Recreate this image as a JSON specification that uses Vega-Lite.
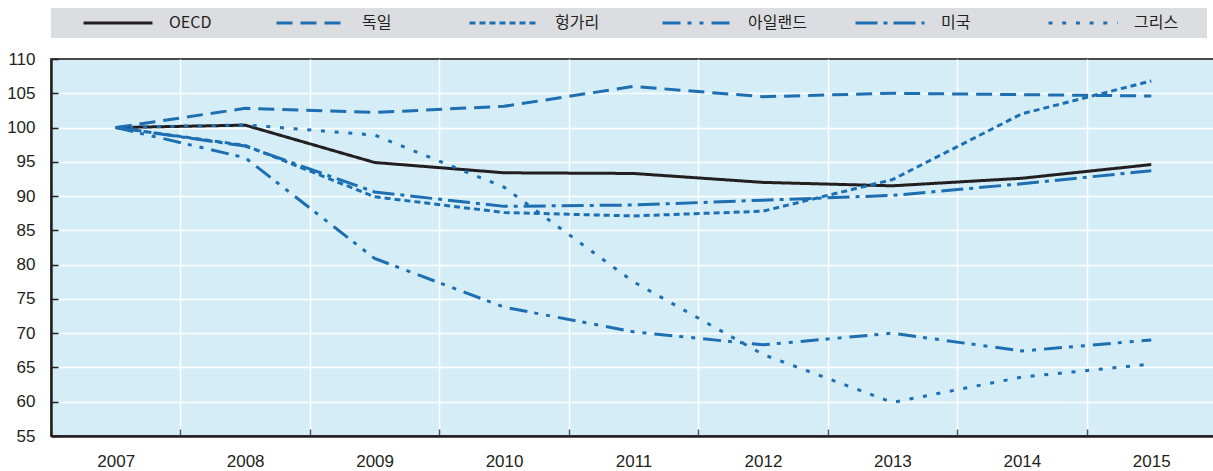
{
  "$schema": "https://vega.github.io/schema/vega-lite/v6.json",
  "width": 1165,
  "height": 377,
  "autosize": {"type": "none"},
  "padding": {"left": 51, "top": 59, "right": 0, "bottom": 35},
  "background": "white",
  "config": {
    "view": {"fill": "#d5edf7", "stroke": "#4a4a4a", "strokeWidth": 2},
    "font": "Liberation Sans",
    "legend": {
      "orient": "none",
      "legendX": 0,
      "legendY": -51,
      "direction": "horizontal",
      "columns": 6,
      "gridAlign": "all",
      "fillColor": "#dcdde0",
      "padding": 7,
      "columnPadding": 23,
      "clipHeight": 16,
      "symbolType": "stroke",
      "symbolSize": 4761,
      "symbolStrokeWidth": 3,
      "symbolOffset": 24,
      "labelOffset": 15,
      "labelFont": "Liberation Sans Narrow, Noto Sans CJK KR, sans-serif",
      "labelFontSize": 16,
      "labelColor": "#231f20",
      "titleOrient": "right",
      "titlePadding": 22,
      "titleFontSize": 10,
      "titleColor": "#dcdde0"
    }
  },
  "data": {
    "values": [
      {"year": "2007", "series": "OECD", "value": 100},
      {"year": "2008", "series": "OECD", "value": 100.35},
      {"year": "2009", "series": "OECD", "value": 94.9},
      {"year": "2010", "series": "OECD", "value": 93.4},
      {"year": "2011", "series": "OECD", "value": 93.3},
      {"year": "2012", "series": "OECD", "value": 92.0},
      {"year": "2013", "series": "OECD", "value": 91.5},
      {"year": "2014", "series": "OECD", "value": 92.6},
      {"year": "2015", "series": "OECD", "value": 94.6},
      {"year": "2007", "series": "독일", "value": 100},
      {"year": "2008", "series": "독일", "value": 102.8},
      {"year": "2009", "series": "독일", "value": 102.2},
      {"year": "2010", "series": "독일", "value": 103.1},
      {"year": "2011", "series": "독일", "value": 106.0},
      {"year": "2012", "series": "독일", "value": 104.5},
      {"year": "2013", "series": "독일", "value": 105.0},
      {"year": "2014", "series": "독일", "value": 104.8},
      {"year": "2015", "series": "독일", "value": 104.6},
      {"year": "2007", "series": "헝가리", "value": 100},
      {"year": "2008", "series": "헝가리", "value": 97.4},
      {"year": "2009", "series": "헝가리", "value": 89.9},
      {"year": "2010", "series": "헝가리", "value": 87.6},
      {"year": "2011", "series": "헝가리", "value": 87.1},
      {"year": "2012", "series": "헝가리", "value": 87.8},
      {"year": "2013", "series": "헝가리", "value": 92.4},
      {"year": "2014", "series": "헝가리", "value": 102.0},
      {"year": "2015", "series": "헝가리", "value": 106.8},
      {"year": "2007", "series": "아일랜드", "value": 100},
      {"year": "2008", "series": "아일랜드", "value": 95.6},
      {"year": "2009", "series": "아일랜드", "value": 80.9},
      {"year": "2010", "series": "아일랜드", "value": 73.8},
      {"year": "2011", "series": "아일랜드", "value": 70.2},
      {"year": "2012", "series": "아일랜드", "value": 68.3},
      {"year": "2013", "series": "아일랜드", "value": 70.0},
      {"year": "2014", "series": "아일랜드", "value": 67.4},
      {"year": "2015", "series": "아일랜드", "value": 69.0},
      {"year": "2007", "series": "미국", "value": 100},
      {"year": "2008", "series": "미국", "value": 97.3},
      {"year": "2009", "series": "미국", "value": 90.6},
      {"year": "2010", "series": "미국", "value": 88.5},
      {"year": "2011", "series": "미국", "value": 88.7},
      {"year": "2012", "series": "미국", "value": 89.4},
      {"year": "2013", "series": "미국", "value": 90.1},
      {"year": "2014", "series": "미국", "value": 91.8},
      {"year": "2015", "series": "미국", "value": 93.7},
      {"year": "2007", "series": "그리스", "value": 100},
      {"year": "2008", "series": "그리스", "value": 100.4},
      {"year": "2009", "series": "그리스", "value": 98.9},
      {"year": "2010", "series": "그리스", "value": 91.3},
      {"year": "2011", "series": "그리스", "value": 77.5},
      {"year": "2012", "series": "그리스", "value": 66.9},
      {"year": "2013", "series": "그리스", "value": 59.9},
      {"year": "2014", "series": "그리스", "value": 63.6},
      {"year": "2015", "series": "그리스", "value": 65.5}
    ]
  },
  "mark": {"type": "line", "strokeWidth": 3},
  "encoding": {
    "x": {
      "field": "year",
      "type": "ordinal",
      "bandPosition": 0.5,
      "scale": {"type": "band", "paddingInner": 0, "paddingOuter": 0},
      "axis": {
        "title": null,
        "labelAngle": 0,
        "labelFont": "Liberation Sans",
        "labelFontSize": 17,
        "labelColor": "#231f20",
        "labelPadding": 24,
        "tickBand": "extent",
        "ticks": true,
        "tickSize": -7,
        "tickColor": "#555555",
        "tickWidth": 1.5,
        "grid": true,
        "gridColor": "white",
        "gridWidth": 1.5,
        "domain": true,
        "domainColor": "#231f20",
        "domainWidth": 2.5
      }
    },
    "y": {
      "field": "value",
      "type": "quantitative",
      "scale": {"domain": [55, 110], "nice": false, "zero": false},
      "axis": {
        "title": null,
        "values": [55, 60, 65, 70, 75, 80, 85, 90, 95, 100, 105, 110],
        "labelFont": "Liberation Sans",
        "labelFontSize": 17,
        "labelColor": "#231f20",
        "labelPadding": 23,
        "ticks": true,
        "tickSize": -7,
        "tickColor": "#231f20",
        "tickWidth": 1.5,
        "grid": true,
        "gridColor": {"condition": {"test": "datum.value === 110 || datum.value === 55", "value": "transparent"}, "value": "white"},
        "gridWidth": 1.5,
        "domain": true,
        "domainColor": "#231f20",
        "domainWidth": 2.5
      }
    },
    "color": {
      "field": "series",
      "type": "nominal",
      "sort": ["OECD", "독일", "헝가리", "아일랜드", "미국", "그리스"],
      "scale": {
        "domain": ["OECD", "독일", "헝가리", "아일랜드", "미국", "그리스"],
        "range": ["#231f20", "#1d6fb2", "#1d6fb2", "#1d6fb2", "#1d6fb2", "#1d6fb2"]
      },
      "legend": {"title": " "}
    },
    "strokeDash": {
      "field": "series",
      "type": "nominal",
      "sort": ["OECD", "독일", "헝가리", "아일랜드", "미국", "그리스"],
      "scale": {
        "domain": ["OECD", "독일", "헝가리", "아일랜드", "미국", "그리스"],
        "range": [[1, 0], [16, 8], [6, 4], [18, 7, 4, 8, 4, 8], [22, 6, 4, 6], [4, 9.7]]
      },
      "legend": {"title": " "}
    }
  }
}
